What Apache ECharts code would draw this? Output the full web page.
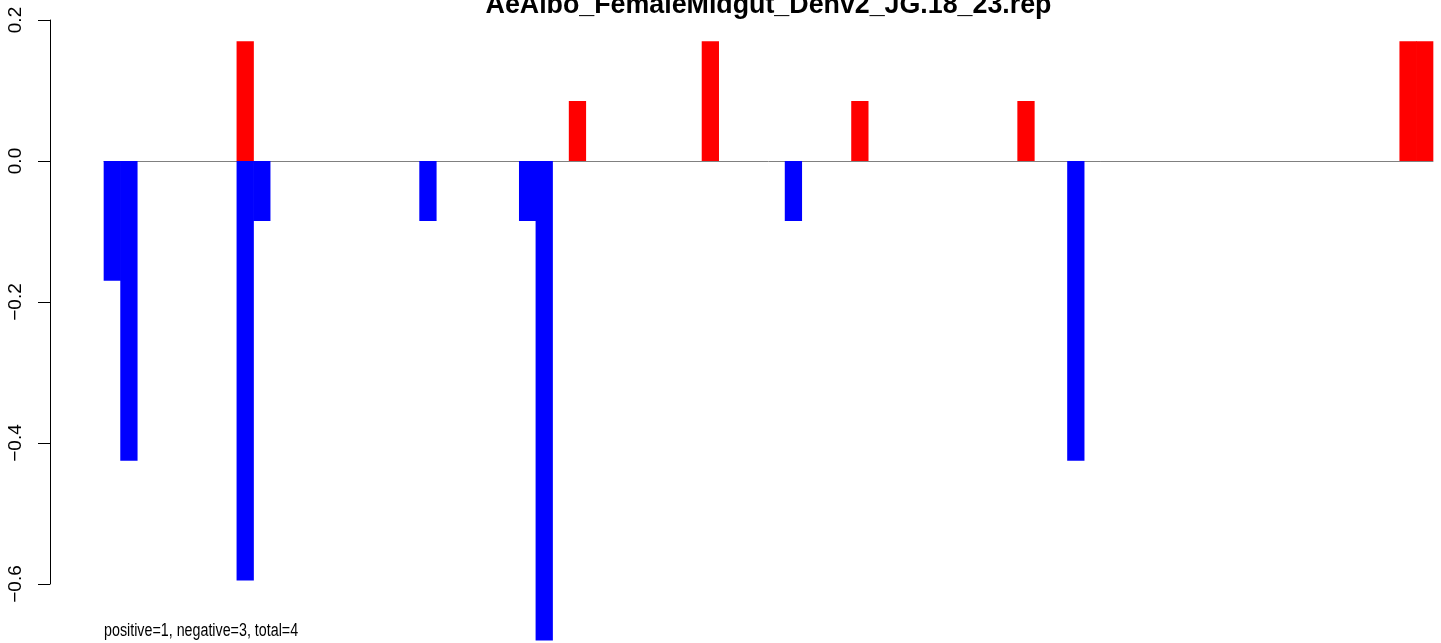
<!DOCTYPE html>
<html>
<head>
<meta charset="utf-8">
<script src="https://cdn.jsdelivr.net/npm/echarts@6/dist/echarts.min.js"></script>
<style>
html,body{margin:0;padding:0;background:#fff;}
#chart{width:1441px;height:643px;}
</style>
</head>
<body>
<div id="chart"></div>
<script>
// ---- data ----
const titleText = 'AeAlbo_FemaleMidgut_Denv2_JG.18_23.rep';
const noteText = 'positive=1, negative=3, total=4';
const slotCount = 80;
const categories = Array.from({length: slotCount}, (_, i) => String(i + 1));
const posSlots  = [8, 28, 36, 45, 55, 78, 79];
const posValues = [0.17, 0.085, 0.17, 0.085, 0.085, 0.17, 0.17];
const negSlots  = [0, 1, 8, 9, 19, 25, 26, 41, 58];
const negValues = [-0.17, -0.425, -0.595, -0.085, -0.085, -0.085, -0.68, -0.085, -0.425];
const yTickValues = [-0.6, -0.4, -0.2, 0.0, 0.2];
const yTickLabels = ['\u22120.6', '\u22120.4', '\u22120.2', '0.0', '0.2'];

const posData = posSlots.map((s, i) => [s, posValues[i]]);
const negData = negSlots.map((s, i) => [s, negValues[i]]);

const chart = echarts.init(document.getElementById('chart'), null, {renderer: 'canvas'});
const FONT = 'Liberation Sans, Arial, Helvetica, sans-serif';
const RED = '#ff0000', BLUE = '#0000ff';
chart.setOption({
  animation: false,
  backgroundColor: '#ffffff',
  title: {
    text: titleText,
    left: 768.5,
    textAlign: 'center',
    top: -8,
    padding: 0,
    textStyle: {fontFamily: FONT, fontWeight: 'bold', fontSize: 26.8, color: '#000'}
  },
  grid: {left: 104, right: 8, top: 20, bottom: 59, containLabel: false},
  xAxis: {
    type: 'category',
    data: categories,
    axisLine: {show: true, onZero: true, lineStyle: {color: '#808080', width: 1}},
    axisTick: {show: false},
    axisLabel: {show: false},
    splitLine: {show: false}
  },
  yAxis: {
    type: 'value',
    min: -0.6,
    max: 0.2,
    interval: 0.2,
    offset: 54,
    axisLine: {show: true, lineStyle: {color: '#000', width: 1}},
    axisTick: {show: true, length: 12, lineStyle: {color: '#000', width: 1}},
    splitLine: {show: false},
    axisLabel: {
      rotate: 90,
      margin: 25,
      fontFamily: FONT,
      fontSize: 19,
      color: '#000',
      formatter: function (v) {
        for (let i = 0; i < yTickValues.length; i++) {
          if (Math.abs(yTickValues[i] - v) < 1e-9) return yTickLabels[i];
        }
        return '';
      }
    }
  },
  series: [
    {
      name: 'positive', type: 'bar', data: posData,
      barWidth: '104%', barGap: '-100%', clip: false,
      itemStyle: {color: RED}
    },
    {
      name: 'negative', type: 'bar', data: negData,
      barWidth: '104%', barGap: '-100%', clip: false,
      itemStyle: {color: BLUE}
    }
  ],
  graphic: [
    {
      type: 'text', x: 104, y: 631, scaleX: 0.84, scaleY: 1.05,
      style: {text: noteText, font: '17px ' + FONT, fill: '#000', verticalAlign: 'middle'}
    }
  ]
});
</script>
</body>
</html>
